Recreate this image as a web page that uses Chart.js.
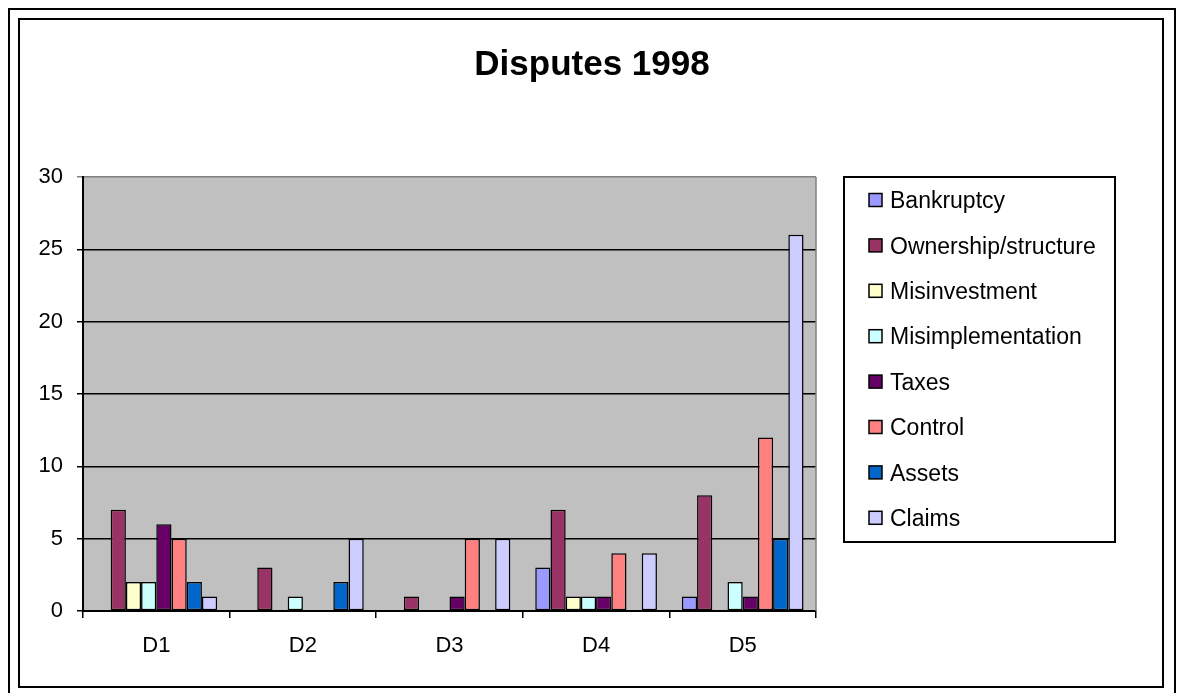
<!DOCTYPE html>
<html lang="en">
<head>
  <meta charset="UTF-8" />
  <title>Disputes 1998</title>
  <script src="https://cdn.jsdelivr.net/npm/chart.js"></script>
  <style>
    body { margin: 0; padding: 0; background: #fff; }
    #wrap { position: relative; width: 1181px; height: 693px; }
  </style>
</head>
<body>
  <div id="wrap"><canvas id="disputesChart" width="1181" height="693"></canvas></div>
  <script>
    // Categories and series
    const chartTitle = 'Disputes 1998';
    const categories = ['D1', 'D2', 'D3', 'D4', 'D5'];
    const seriesNames = ['Bankruptcy', 'Ownership/structure', 'Misinvestment', 'Misimplementation',
                         'Taxes', 'Control', 'Assets', 'Claims'];
    const bankruptcy        = [0, 0, 0, 3, 1];
    const ownership         = [7, 3, 1, 7, 8];
    const misinvestment     = [2, 0, 0, 1, 0];
    const misimplementation = [2, 1, 0, 1, 2];
    const taxes             = [6, 0, 1, 1, 1];
    const control           = [5, 0, 5, 4, 12];
    const assets            = [2, 2, 0, 0, 5];
    const claims            = [1, 5, 5, 4, 26];
    const yMin = 0, yMax = 30, yStep = 5;

    const seriesValues = [bankruptcy, ownership, misinvestment, misimplementation, taxes, control, assets, claims];
    const seriesColors = ['#9999FF', '#993366', '#FFFFCC', '#CCFFFF', '#660066', '#FF8080', '#0066CC', '#CCCCFF'];

    const FONT = "'Liberation Sans', Arial, sans-serif";
    Chart.defaults.font.family = FONT;
    Chart.defaults.color = '#000';

    // Excel-like background, double frame, title, grey plot area and boxed legend
    const excelLook = {
      id: 'excelLook',
      beforeDraw(chart) {
        const { ctx, chartArea: a } = chart;
        ctx.save();
        ctx.fillStyle = '#fff';
        ctx.fillRect(0, 0, chart.width, chart.height);
        ctx.strokeStyle = '#000';
        ctx.lineWidth = 2;
        ctx.strokeRect(9, 9, 1166, 700);
        ctx.strokeRect(19, 19, 1144, 668);
        ctx.fillStyle = '#C0C0C0';
        ctx.fillRect(a.left, a.top, a.right - a.left, a.bottom - a.top);
        // chart title, centred on the whole chart
        ctx.fillStyle = '#000';
        ctx.font = 'bold 35px ' + FONT;
        ctx.textAlign = 'center';
        ctx.textBaseline = 'alphabetic';
        ctx.fillText(chartTitle, 592, 75);
        ctx.restore();
      },
      beforeDatasetsDraw(chart) {
        const { ctx, chartArea: a } = chart;
        ctx.save();
        ctx.strokeStyle = '#808080';
        ctx.lineWidth = 1.5;
        ctx.beginPath();
        ctx.moveTo(a.right, a.top);
        ctx.lineTo(a.right, a.bottom);
        ctx.stroke();
        ctx.restore();
      },
      afterDraw(chart) {
        const { ctx } = chart;
        const box = { left: 844, top: 177, right: 1115, bottom: 542 };
        ctx.save();
        ctx.fillStyle = '#fff';
        ctx.fillRect(box.left, box.top, box.right - box.left, box.bottom - box.top);
        ctx.strokeStyle = '#000';
        ctx.lineWidth = 2;
        ctx.strokeRect(box.left, box.top, box.right - box.left, box.bottom - box.top);
        ctx.font = '23px ' + FONT;
        ctx.textBaseline = 'alphabetic';
        chart.data.datasets.forEach((ds, i) => {
          const cy = 200 + i * 45.4;
          ctx.fillStyle = ds.backgroundColor;
          ctx.fillRect(869, cy - 6.5, 13, 13);
          ctx.lineWidth = 1.5;
          ctx.strokeStyle = '#000';
          ctx.strokeRect(869, cy - 6.5, 13, 13);
          ctx.fillStyle = '#000';
          ctx.fillText(ds.label, 890, cy + 8.2);
        });
        ctx.restore();
      }
    };

    new Chart(document.getElementById('disputesChart').getContext('2d'), {
      type: 'bar',
      data: {
        labels: categories,
        datasets: seriesNames.map((name, i) => ({
          label: name,
          data: seriesValues[i],
          backgroundColor: seriesColors[i],
          borderColor: '#000',
          borderWidth: 1.5,
          borderSkipped: false,
          categoryPercentage: 0.83,
          barPercentage: 1.0
        }))
      },
      options: {
        responsive: false,
        animation: false,
        events: [],
        layout: { padding: { left: 18, right: 365, top: 177, bottom: 32 } },
        plugins: {
          legend: { display: false },
          tooltip: { enabled: false },
          title: { display: false }
        },
        scales: {
          x: {
            afterFit: scale => { scale.height = 50; },
            grid: { offset: true, drawOnChartArea: false, drawTicks: true, tickLength: 7, color: '#000', lineWidth: 1.5 },
            border: { display: true, color: '#000', width: 2 },
            ticks: { font: { size: 22 }, color: '#000', padding: 15 }
          },
          y: {
            min: yMin,
            max: yMax,
            afterFit: scale => { scale.width = 65; },
            grid: {
              color: ctx => (ctx.tick && ctx.tick.value === yMax ? '#808080' : '#000'),
              lineWidth: 1.5,
              tickLength: 6
            },
            border: { display: true, color: '#000', width: 2 },
            ticks: { stepSize: yStep, font: { size: 22 }, color: '#000', padding: 14 }
          }
        }
      },
      plugins: [excelLook]
    });
  </script>
</body>
</html>
